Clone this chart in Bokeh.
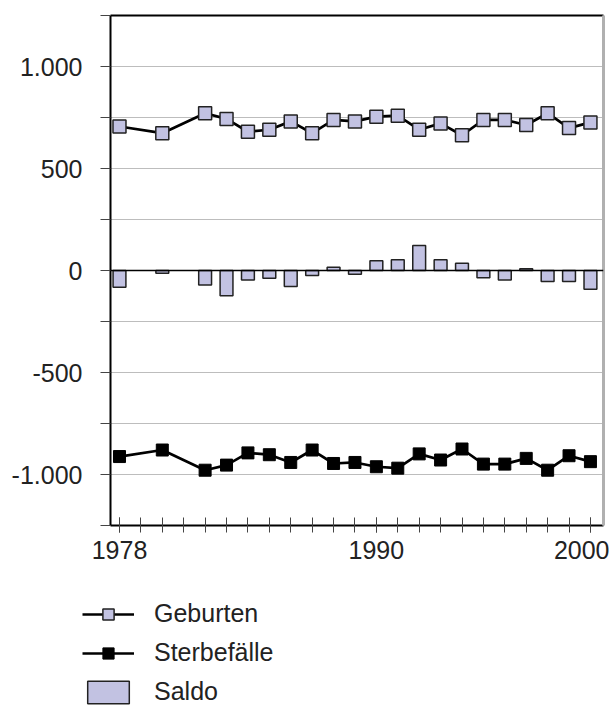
from bokeh.plotting import figure
from bokeh.models import (FixedTicker, LinearAxis, Legend, LegendItem, Span,
                          ColumnDataSource, Range1d)
from bokeh.embed import file_html
from bokeh.resources import INLINE

## ----- DATA ----- ##
years = [1978, 1980, 1982, 1983, 1984, 1985, 1986, 1987, 1988, 1989, 1990,
         1991, 1992, 1993, 1994, 1995, 1996, 1997, 1998, 1999, 2000]
geburten = [706, 673, 771, 743, 680, 690, 731, 673, 738, 731, 754,
            759, 690, 721, 663, 738, 738, 713, 771, 698, 726]
sterbefaelle = [-912, -880, -979, -954, -894, -903, -941, -880, -946, -941, -962,
                -969, -899, -929, -875, -949, -949, -921, -979, -908, -937]
saldo = [-82, -13, -71, -124, -46, -38, -79, -25, 16, -18, 48,
         53, 122, 53, 36, -35, -46, 8, -54, -54, -92]

x_labels = {1978: "1978", 1990: "1990", 2000: "2000"}
y_labels = {-1000: "-1.000", -500: "-500", 0: "0", 500: "500", 1000: "1.000"}
series_names = ["Geburten", "Sterbefälle", "Saldo"]

## ----- STYLE ----- ##
FONT = "Liberation Sans"
LAVENDER = "#c2c2e2"
TXT = "#222222"

src = ColumnDataSource(data=dict(year=years, geb=geburten, ster=sterbefaelle, saldo=saldo))

p = figure(width=609, height=570, output_backend="svg", toolbar_location=None,
           x_range=Range1d(1977.58, 2000.61), y_range=Range1d(-1250, 1250),
           min_border_left=110, min_border_right=6, min_border_top=15,
           min_border_bottom=45, x_axis_location=None, y_axis_location=None)
p.outline_line_color = None
p.background_fill_color = "white"

# axes
xaxis = LinearAxis(ticker=FixedTicker(ticks=list(x_labels), minor_ticks=list(range(1978, 2002))))
xaxis.major_label_overrides = x_labels
xaxis.axis_line_width = 2
xaxis.axis_line_color = "black"
xaxis.major_tick_in = 8
xaxis.major_tick_out = 7
xaxis.minor_tick_in = 8
xaxis.minor_tick_out = 7
xaxis.major_tick_line_color = "#444444"
xaxis.minor_tick_line_color = "#444444"
xaxis.major_label_standoff = 8
xaxis.major_label_text_font = FONT
xaxis.major_label_text_font_size = "25px"
xaxis.major_label_text_color = TXT
p.add_layout(xaxis, "below")

yaxis = LinearAxis(ticker=FixedTicker(ticks=list(y_labels),
                                      minor_ticks=[-1250, -750, -250, 250, 750, 1250]))
yaxis.major_label_overrides = y_labels
yaxis.axis_line_width = 2
yaxis.axis_line_color = "black"
yaxis.major_tick_in = 0
yaxis.major_tick_out = 10
yaxis.minor_tick_in = 0
yaxis.minor_tick_out = 10
yaxis.major_tick_line_color = "#444444"
yaxis.minor_tick_line_color = "#444444"
yaxis.major_label_standoff = 18
yaxis.major_label_text_font = FONT
yaxis.major_label_text_font_size = "25px"
yaxis.major_label_text_color = TXT
p.add_layout(yaxis, "left")

top = LinearAxis(ticker=FixedTicker(ticks=[]), axis_line_width=2, axis_line_color="black",
                 major_tick_out=0, minor_tick_out=0, major_label_text_font_size="0px")
p.add_layout(top, "above")
right = LinearAxis(ticker=FixedTicker(ticks=[]), axis_line_width=3, axis_line_color="#b0b0b0",
                   major_tick_out=0, minor_tick_out=0, major_label_text_font_size="0px")
p.add_layout(right, "right")

# grid
p.xgrid.visible = False
p.ygrid.ticker = yaxis.ticker
p.ygrid.grid_line_color = "#bdbdbd"
p.ygrid.grid_line_width = 1
p.ygrid.minor_grid_line_color = "#bdbdbd"
p.ygrid.minor_grid_line_width = 1

## ----- GLYPHS ----- ##
def draw_series(fig, source):
    bars = fig.vbar(x="year", top="saldo", bottom=0, width=0.6, fill_color=LAVENDER,
                    line_color="#222222", line_width=1.5, source=source)
    l_geb = fig.line(x="year", y="geb", line_color="black", line_width=2.7, source=source)
    m_geb = fig.scatter(x="year", y="geb", marker="square", size=13, fill_color=LAVENDER,
                        line_color="#222222", line_width=1.5, source=source)
    l_ster = fig.line(x="year", y="ster", line_color="black", line_width=2.7, source=source)
    m_ster = fig.scatter(x="year", y="ster", marker="square", size=12, fill_color="black",
                         line_color="black", source=source)
    return bars, l_geb, m_geb, l_ster, m_ster

draw_series(p, src)
p.add_layout(Span(location=0, dimension="width", line_color="black", line_width=1.5))

## ----- LEGEND (own root below the chart, its series hidden) ----- ##
lg = figure(width=609, height=136, output_backend="svg", toolbar_location=None,
            x_range=Range1d(1977.58, 2000.61), y_range=Range1d(-1250, 1250), min_border=0,
            x_axis_location=None, y_axis_location=None)
lg.outline_line_color = None
lg.grid.visible = False
lg_renderers = draw_series(lg, src)
for r in lg_renderers:
    r.visible = False
bars, l_geb, m_geb, l_ster, m_ster = lg_renderers

legend = Legend(items=[
    LegendItem(label=series_names[0], renderers=[l_geb, m_geb]),
    LegendItem(label=series_names[1], renderers=[l_ster, m_ster]),
    LegendItem(label=series_names[2], renderers=[bars]),
], location=(82, 0), orientation="vertical")
legend.border_line_color = None
legend.background_fill_alpha = 0
legend.inactive_fill_alpha = 0
legend.padding = 0
legend.margin = 0
legend.spacing = 10
legend.glyph_height = 28
legend.glyph_width = 52
legend.label_height = 28
legend.label_standoff = 20
legend.label_text_font = FONT
legend.label_text_font_size = "25px"
legend.label_text_color = TXT
lg.add_layout(legend, "center")

open("out.html", "w").write(file_html([p, lg], INLINE))
